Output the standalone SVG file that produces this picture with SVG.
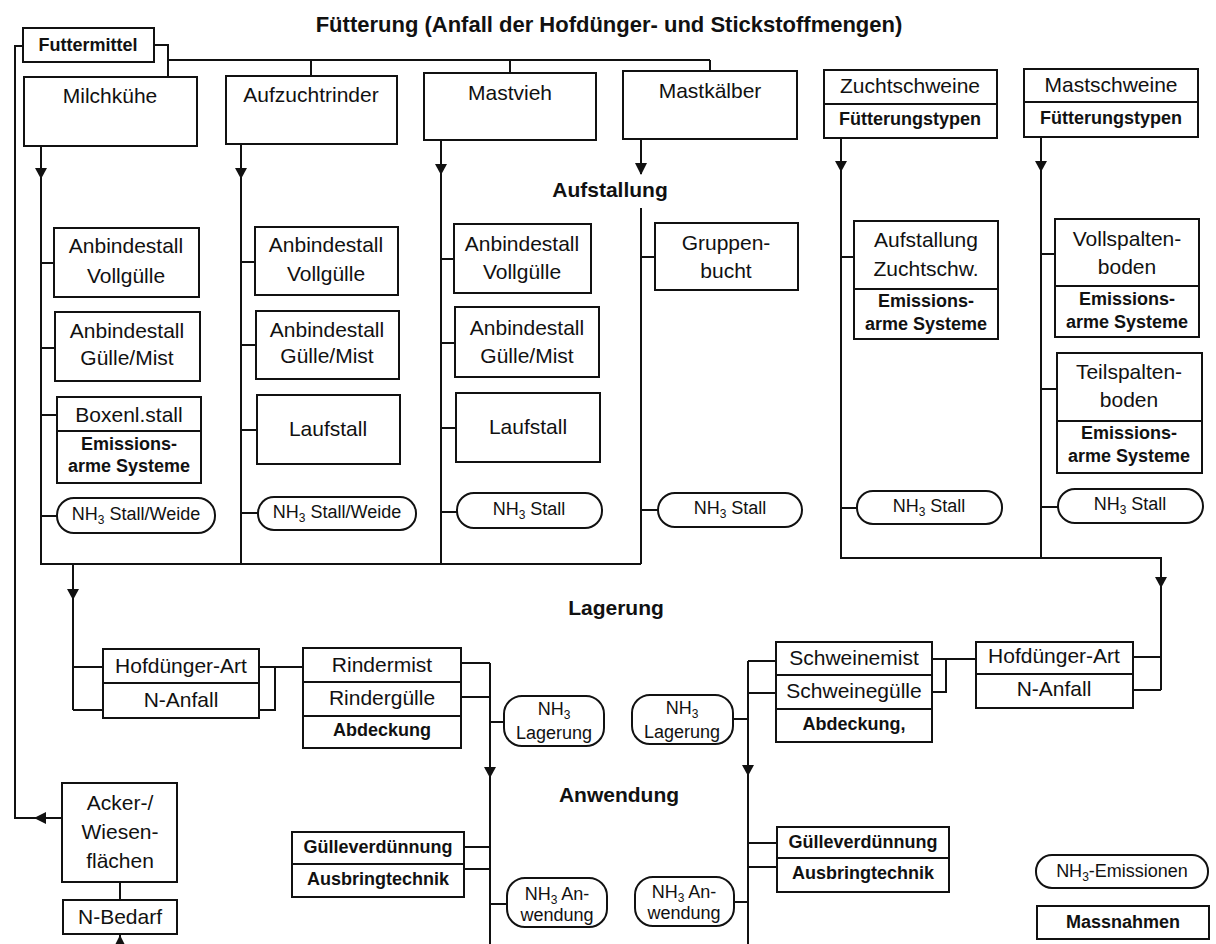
<svg xmlns="http://www.w3.org/2000/svg" width="1216" height="944" viewBox="0 0 1216 944">
<style>
.b{fill:#fff;stroke:#111;stroke-width:2}
.d{stroke:#111;stroke-width:2;fill:none}
.c{stroke:#111;stroke-width:2;fill:none}
.a{fill:#111}
text{font-family:"Liberation Sans",Arial,sans-serif;fill:#111;text-anchor:middle}
.t{font-size:21px}
.s{font-size:18px}
.bs{font-size:18px;font-weight:bold}
.h{font-size:21px;font-weight:bold}
.sub{font-size:12px}
</style>
<rect width="1216" height="944" fill="#fff"/>
<text class="h" x="609" y="32" style="font-size:22px">Fütterung (Anfall der Hofdünger- und Stickstoffmengen)</text>
<text class="h" x="610" y="197">Aufstallung</text>
<text class="h" x="616" y="615">Lagerung</text>
<text class="h" x="619" y="802">Anwendung</text>

<g id="connectors">
<path class="c" d="M23 46H15V818H62"/>
<path class="c" d="M154 45H168V77M168 60H710M311 60V76M510 60V73M710 60V71"/>
<path class="c" d="M41 146V564H641M241 144V564M441 140V564M641 139V174M641 208V564"/>
<path class="c" d="M41 263H54M41 348H55M41 415H57M41 516H57"/>
<path class="c" d="M241 262H255M241 345H256M241 430H257M241 513H258"/>
<path class="c" d="M441 259H454M441 343H455M441 428H456M441 512H457"/>
<path class="c" d="M641 257H655M641 510H658"/>
<path class="c" d="M841 138V558H1161V690M1041 137V558"/>
<path class="c" d="M841 257H854M841 508H857"/>
<path class="c" d="M1041 254H1055M1041 389H1057M1041 507H1058"/>
<path class="c" d="M73 564V710M73 667H103M73 710H103"/>
<path class="c" d="M259 667H303M259 710H275V667"/>
<path class="c" d="M461 663H490M461 697H490M490 663V944M490 722H504M464 847H490M464 869H490M490 904H507"/>
<path class="c" d="M1133 657H1161M1133 690H1161"/>
<path class="c" d="M976 659H932M932 692H946V659"/>
<path class="c" d="M776 661H748M776 693H748M748 661V944M733 719H748M777 843H748M777 867H748M734 902H748"/>
<path class="c" d="M120 882V900M120 934V944"/>
<polygon class="a" points="35,168 47,168 41,179"/>
<polygon class="a" points="235,168 247,168 241,179"/>
<polygon class="a" points="435,164 447,164 441,175"/>
<polygon class="a" points="635,163 647,163 641,175"/>
<polygon class="a" points="835,161 847,161 841,172"/>
<polygon class="a" points="1035,161 1047,161 1041,172"/>
<polygon class="a" points="67,589 79,589 73,600"/>
<polygon class="a" points="1155,577 1167,577 1161,588"/>
<polygon class="a" points="484,767 496,767 490,778"/>
<polygon class="a" points="742,765 754,765 748,776"/>
<polygon class="a" points="46,812 46,824 34,818"/>
<polygon class="a" points="114,947 126,947 120,935"/>
</g>

<g id="futtermittel"><rect class="b" x="23" y="28" width="131" height="34"/><text class="bs" x="88" y="51">Futtermittel</text></g>
<g id="milchkuehe"><rect class="b" x="24" y="77" width="173" height="69"/><text class="t" x="110" y="103">Milchkühe</text></g>
<g id="aufzuchtrinder"><rect class="b" x="226" y="76" width="171" height="68"/><text class="t" x="311" y="102">Aufzuchtrinder</text></g>
<g id="mastvieh"><rect class="b" x="424" y="73" width="172" height="67"/><text class="t" x="510" y="100">Mastvieh</text></g>
<g id="mastkaelber"><rect class="b" x="623" y="71" width="174" height="68"/><text class="t" x="710" y="98">Mastkälber</text></g>
<g id="zuchtschweine"><rect class="b" x="824" y="70" width="173" height="68"/><path class="d" d="M824 104H997"/><text class="t" x="910" y="93">Zuchtschweine</text><text class="bs" x="910" y="125">Fütterungstypen</text></g>
<g id="mastschweine"><rect class="b" x="1024" y="69" width="174" height="68"/><path class="d" d="M1024 102H1198"/><text class="t" x="1111" y="92">Mastschweine</text><text class="bs" x="1111" y="124">Fütterungstypen</text></g>

<g id="m-av"><rect class="b" x="54" y="228" width="145" height="69"/><text class="t" x="126" y="253">Anbindestall</text><text class="t" x="126" y="283">Vollgülle</text></g>
<g id="m-agm"><rect class="b" x="55" y="312" width="145" height="69"/><text class="t" x="127" y="338">Anbindestall</text><text class="t" x="127" y="365">Gülle/Mist</text></g>
<g id="m-box"><rect class="b" x="57" y="397" width="144" height="86"/><path class="d" d="M57 431H201"/><text class="t" x="129" y="422">Boxenl.stall</text><text class="bs" x="129" y="450">Emissions-</text><text class="bs" x="129" y="472">arme Systeme</text></g>
<g id="m-nh3"><rect class="b" x="57" y="498" width="158" height="35" rx="17"/><text class="s" x="136" y="520">NH<tspan class="sub" dy="4">3</tspan><tspan dy="-4"> Stall/Weide</tspan></text></g>

<g id="a-av"><rect class="b" x="255" y="227" width="143" height="68"/><text class="t" x="326" y="252">Anbindestall</text><text class="t" x="326" y="281">Vollgülle</text></g>
<g id="a-agm"><rect class="b" x="256" y="311" width="143" height="68"/><text class="t" x="327" y="337">Anbindestall</text><text class="t" x="327" y="363">Gülle/Mist</text></g>
<g id="a-lauf"><rect class="b" x="257" y="395" width="143" height="69"/><text class="t" x="328" y="436">Laufstall</text></g>
<g id="a-nh3"><rect class="b" x="258" y="497" width="158" height="33" rx="16"/><text class="s" x="337" y="518">NH<tspan class="sub" dy="4">3</tspan><tspan dy="-4"> Stall/Weide</tspan></text></g>

<g id="v-av"><rect class="b" x="454" y="224" width="137" height="69"/><text class="t" x="522" y="251">Anbindestall</text><text class="t" x="522" y="279">Vollgülle</text></g>
<g id="v-agm"><rect class="b" x="455" y="307" width="144" height="70"/><text class="t" x="527" y="335">Anbindestall</text><text class="t" x="527" y="363">Gülle/Mist</text></g>
<g id="v-lauf"><rect class="b" x="456" y="393" width="144" height="69"/><text class="t" x="528" y="434">Laufstall</text></g>
<g id="v-nh3"><rect class="b" x="457" y="493" width="145" height="35" rx="17"/><text class="s" x="529" y="515">NH<tspan class="sub" dy="4">3</tspan><tspan dy="-4"> Stall</tspan></text></g>

<g id="k-grp"><rect class="b" x="655" y="223" width="143" height="67"/><text class="t" x="726" y="250">Gruppen-</text><text class="t" x="726" y="278">bucht</text></g>
<g id="k-nh3"><rect class="b" x="658" y="493" width="144" height="34" rx="17"/><text class="s" x="730" y="514">NH<tspan class="sub" dy="4">3</tspan><tspan dy="-4"> Stall</tspan></text></g>

<g id="z-auf"><rect class="b" x="854" y="221" width="144" height="118"/><path class="d" d="M854 289H998"/><text class="t" x="926" y="247">Aufstallung</text><text class="t" x="926" y="276">Zuchtschw.</text><text class="bs" x="926" y="307">Emissions-</text><text class="bs" x="926" y="330">arme Systeme</text></g>
<g id="z-nh3"><rect class="b" x="857" y="491" width="145" height="33" rx="16"/><text class="s" x="929" y="512">NH<tspan class="sub" dy="4">3</tspan><tspan dy="-4"> Stall</tspan></text></g>

<g id="s-voll"><rect class="b" x="1055" y="219" width="144" height="118"/><path class="d" d="M1055 286H1199"/><text class="t" x="1127" y="246">Vollspalten-</text><text class="t" x="1127" y="274">boden</text><text class="bs" x="1127" y="305">Emissions-</text><text class="bs" x="1127" y="328">arme Systeme</text></g>
<g id="s-teil"><rect class="b" x="1057" y="353" width="145" height="120"/><path class="d" d="M1057 421H1202"/><text class="t" x="1129" y="379">Teilspalten-</text><text class="t" x="1129" y="407">boden</text><text class="bs" x="1129" y="439">Emissions-</text><text class="bs" x="1129" y="462">arme Systeme</text></g>
<g id="s-nh3"><rect class="b" x="1058" y="489" width="145" height="34" rx="17"/><text class="s" x="1130" y="510">NH<tspan class="sub" dy="4">3</tspan><tspan dy="-4"> Stall</tspan></text></g>

<g id="hof-left"><rect class="b" x="103" y="649" width="156" height="69"/><path class="d" d="M103 683H259"/><text class="t" x="181" y="673">Hofdünger-Art</text><text class="t" x="181" y="707">N-Anfall</text></g>
<g id="rinder"><rect class="b" x="303" y="648" width="158" height="100"/><path class="d" d="M303 682H461M303 716H461"/><text class="t" x="382" y="672">Rindermist</text><text class="t" x="382" y="705">Rindergülle</text><text class="bs" x="382" y="736">Abdeckung</text></g>
<g id="nh3-lag-l"><rect class="b" x="504" y="696" width="100" height="50" rx="18"/><text class="s" x="554" y="715">NH<tspan class="sub" dy="4">3</tspan></text><text class="s" x="554" y="739">Lagerung</text></g>
<g id="nh3-lag-r"><rect class="b" x="632" y="695" width="101" height="49" rx="18"/><text class="s" x="682" y="714">NH<tspan class="sub" dy="4">3</tspan></text><text class="s" x="682" y="738">Lagerung</text></g>
<g id="schweine"><rect class="b" x="776" y="642" width="156" height="100"/><path class="d" d="M776 675H932M776 709H932"/><text class="t" x="854" y="665">Schweinemist</text><text class="t" x="854" y="698">Schweinegülle</text><text class="bs" x="854" y="730">Abdeckung,</text></g>
<g id="hof-right"><rect class="b" x="976" y="642" width="157" height="66"/><path class="d" d="M976 674H1133"/><text class="t" x="1054" y="663">Hofdünger-Art</text><text class="t" x="1054" y="696">N-Anfall</text></g>

<g id="acker"><rect class="b" x="62" y="783" width="115" height="99"/><text class="t" x="120" y="810">Acker-/</text><text class="t" x="120" y="839">Wiesen-</text><text class="t" x="120" y="868">flächen</text></g>
<g id="nbedarf"><rect class="b" x="63" y="900" width="114" height="34"/><text class="t" x="120" y="924">N-Bedarf</text></g>
<g id="guelle-l"><rect class="b" x="292" y="832" width="172" height="65"/><path class="d" d="M292 864H464"/><text class="bs" x="378" y="853">Gülleverdünnung</text><text class="bs" x="378" y="885">Ausbringtechnik</text></g>
<g id="guelle-r"><rect class="b" x="777" y="827" width="172" height="65"/><path class="d" d="M777 858H949"/><text class="bs" x="863" y="848">Gülleverdünnung</text><text class="bs" x="863" y="879">Ausbringtechnik</text></g>
<g id="nh3-anw-l"><rect class="b" x="507" y="878" width="100" height="49" rx="18"/><text class="s" x="557" y="900">NH<tspan class="sub" dy="4">3</tspan><tspan dy="-4"> An-</tspan></text><text class="s" x="557" y="921">wendung</text></g>
<g id="nh3-anw-r"><rect class="b" x="635" y="877" width="99" height="49" rx="18"/><text class="s" x="684" y="898">NH<tspan class="sub" dy="4">3</tspan><tspan dy="-4"> An-</tspan></text><text class="s" x="684" y="919">wendung</text></g>

<g id="legend-nh3"><rect class="b" x="1036" y="855" width="172" height="33" rx="16"/><text class="s" x="1122" y="877">NH<tspan class="sub" dy="4">3</tspan><tspan dy="-4">-Emissionen</tspan></text></g>
<g id="legend-mass"><rect class="b" x="1037" y="906" width="172" height="33"/><text class="bs" x="1123" y="928">Massnahmen</text></g>
</svg>
